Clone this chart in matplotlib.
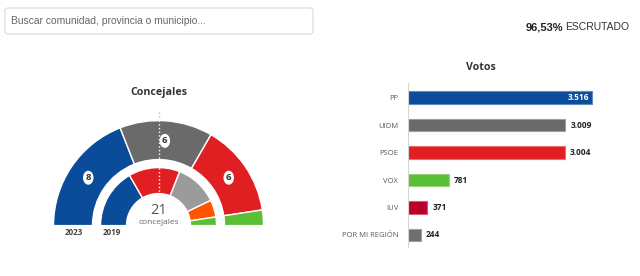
import matplotlib.pyplot as plt
import numpy as np
from matplotlib.colors import to_rgb
from matplotlib.patches import Ellipse, FancyBboxPatch

# concejales (2023 outer ring, 2019 inner ring)
seats_2023 = [8, 6, 6, 1]
colors_2023 = ["#0a4c9a", "#6a6a6a", "#e01f22", "#5bbf36"]
seats_2019 = [7, 6, 5, 2, 1]
colors_2019 = ["#0a4c9a", "#e01f22", "#9b9b9b", "#ff5500", "#5bbf36"]
total_seats = 21

# votos
parties = ["PP", "UIDM", "PSOE", "VOX", "IUV", "POR MI REGIÓN"]
votes = [3516, 3009, 3004, 781, 371, 244]
vote_labels = ["3.516", "3.009", "3.004", "781", "371", "244"]
bar_colors = ["#0a4c9a", "#6a6a6a", "#e01f22", "#5bbf36", "#b8002b", "#6f6f6f"]

escrutado = "96,53%"

W, H = 640, 276
def Y(y):
    # pixel rows counted from the top
    return H - y

fig = plt.figure(figsize=(6.4, 2.76), dpi=100)
ax = fig.add_axes([0, 0, 1, 1])

# search box + escrutado
ax.add_patch(FancyBboxPatch((5, Y(34)), 308, 26, boxstyle="round,pad=0,rounding_size=3",
                            fc="white", ec="#d9d9d9", lw=0.8))
ax.text(11, Y(21), "Buscar comunidad, provincia o municipio...", fontsize=7.4,
        family="Liberation Sans", color="#666666", va="center")
ax.text(563, Y(27), escrutado, fontsize=8, weight="bold", family="Liberation Sans",
        color="#222222", ha="right", va="center")
ax.text(565.5, Y(27), "ESCRUTADO", fontsize=7.5, family="Liberation Sans",
        color="#333333", ha="left", va="center")

# hemicycle
cx, cy = 158.5, Y(225.6)
w1, _ = ax.pie(seats_2023 + [total_seats], colors=colors_2023 + ["white"], startangle=180,
               counterclock=False, radius=105, center=(cx, cy),
               wedgeprops=dict(width=39, edgecolor="white", linewidth=1))
w1[-1].set_visible(False)
w2, _ = ax.pie(seats_2019 + [total_seats], colors=colors_2019 + ["white"], startangle=180,
               counterclock=False, radius=58, center=(cx, cy),
               wedgeprops=dict(width=26, edgecolor="white", linewidth=1))
w2[-1].set_visible(False)

# seat labels on the outer ring
deg = 180 / total_seats
start = 180
for n in seats_2023:
    mid = np.radians(start - n * deg / 2)
    start -= n * deg
    if n < 2:
        continue
    lx, ly = cx + 85 * np.cos(mid), cy + 85 * np.sin(mid)
    ax.add_patch(Ellipse((lx, ly), 10.5, 14, fc="white", ec="none", zorder=3))
    ax.text(lx, ly, str(n), fontsize=6.8, weight="bold", family="Open Sans",
            color="#333333", ha="center", va="center", zorder=4)

ax.plot([cx, cx], [Y(112), Y(120)], color="#bbbbbb", ls=":", lw=1)
ax.plot([cx, cx], [Y(120), Y(198)], color="white", ls=":", lw=1)

ax.text(cx, Y(210), str(total_seats), fontsize=10.5, family="Open Sans", color="#555555",
        ha="center", va="center")
ax.text(cx, Y(223), "concejales", fontsize=6, family="Open Sans", color="#666666",
        ha="center", va="center")
ax.text(73.7, Y(232.5), "2023", fontsize=5.8, weight="bold", family="Open Sans",
        color="#444444", ha="center", va="center")
ax.text(111.7, Y(232.5), "2019", fontsize=5.8, weight="bold", family="Open Sans",
        color="#444444", ha="center", va="center")
ax.text(cx, Y(93), "Concejales", fontsize=7.7, weight="bold", family="Open Sans",
        color="#333333", ha="center", va="center")
ax.text(481, Y(67), "Votos", fontsize=7.7, weight="bold", family="Open Sans",
        color="#333333", ha="center", va="center")

ax.set_xlim(0, W)
ax.set_ylim(0, H)
ax.set_aspect("auto")
ax.axis("off")

# bar chart
bx = fig.add_axes([408 / W, (H - 247) / H, (W - 408) / W, (247 - 83) / H])
edge = [tuple(0.65 * np.array(to_rgb(c)) + 0.35) for c in bar_colors]
pos = np.arange(len(parties))
bx.barh(pos, votes, height=0.46, color=bar_colors, edgecolor=edge, linewidth=0.8)
xmax = votes[0] * 232 / 184
bx.set_xlim(0, xmax)
bx.set_ylim(5.44, -0.535)
off = xmax / 232
for i, (v, lab) in enumerate(zip(votes, vote_labels)):
    if i == 0:
        bx.text(v - 3 * off, i, lab, fontsize=6, weight="bold", family="Open Sans",
                color="white", ha="right", va="center")
    else:
        bx.text(v + 5 * off, i, lab, fontsize=6, weight="bold", family="Open Sans",
                color="#222222", ha="left", va="center")
bx.set_yticks(pos)
bx.set_yticklabels(parties, fontsize=5.5, family="Open Sans", color="#5a5a5a")
bx.tick_params(axis="y", length=0, pad=7)
bx.set_xticks([])
for s in ["top", "right", "bottom"]:
    bx.spines[s].set_visible(False)
bx.spines["left"].set_color("#d5d5d5")
bx.spines["left"].set_linewidth(0.8)
bx.patch.set_alpha(0)

fig.savefig("out.png", dpi=100)
